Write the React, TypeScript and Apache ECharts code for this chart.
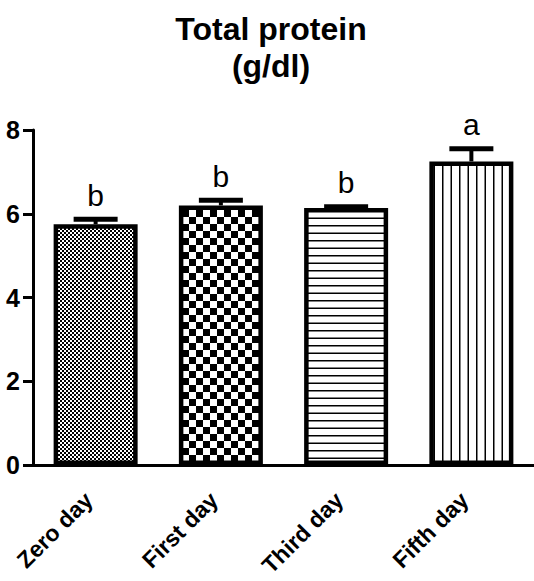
import React, { useEffect, useRef } from 'react';
import * as echarts from 'echarts';

const categories = ['Zero day', 'First day', 'Third day', 'Fifth day'];
const meanValues = [5.75, 6.2, 6.14, 7.25];
const errorTops = [5.87, 6.32, 6.17, 7.55];
const groupLetters = ['b', 'b', 'b', 'a'];
const yMin = 0;
const yMax = 8;
const yStep = 2;
const titleLines = ['Total protein', '(g/dl)'];

const FONT = '"Liberation Sans", Arial, Helvetica, sans-serif';

type Painter = (ctx: CanvasRenderingContext2D, w: number, h: number) => void;

function makeTile(w: number, h: number, paint: Painter) {
  const c = document.createElement('canvas');
  c.width = w;
  c.height = h;
  const ctx = c.getContext('2d') as CanvasRenderingContext2D;
  ctx.fillStyle = '#ffffff';
  ctx.fillRect(0, 0, w, h);
  ctx.fillStyle = '#000000';
  paint(ctx, w, h);
  return { image: c, repeat: 'repeat', imageWidth: w, imageHeight: h } as any;
}

function buildFills() {
  const fineChecks = makeTile(4, 4, (ctx) => {
    ctx.fillRect(0, 0, 2, 2);
    ctx.fillRect(2, 2, 2, 2);
  });
  const coarseChecks = makeTile(14, 14, (ctx) => {
    ctx.fillRect(0, 0, 7, 7);
    ctx.fillRect(7, 7, 7, 7);
  });
  const horizontalLines = makeTile(10, 15, (ctx, w) => {
    ctx.fillRect(0, 0, w, 1.5);
    ctx.fillRect(0, 7.5, w, 1.5);
  });
  const verticalLines = makeTile(17, 10, (ctx, _w, h) => {
    ctx.fillRect(0, 0, 1.5, h);
    ctx.fillRect(8.5, 0, 1.5, h);
  });
  return [fineChecks, coarseChecks, horizontalLines, verticalLines];
}

export default function App() {
  const ref = useRef<HTMLDivElement>(null);

  useEffect(() => {
    if (!ref.current) return;
    const chart = echarts.init(ref.current, null, { renderer: 'svg' });
    const fills = buildFills();

    const option: any = {
      animation: false,
      backgroundColor: '#ffffff',
      title: {
        text: titleLines.join('\n'),
        left: 271,
        top: 10,
        padding: 0,
        textAlign: 'center',
        textStyle: {
          fontFamily: FONT,
          fontSize: 32,
          fontWeight: 'bold',
          lineHeight: 37,
          color: '#000',
        },
      },
      grid: { left: 33, top: 130, width: 504, bottom: 116, containLabel: false },
      xAxis: {
        type: 'category',
        data: categories,
        axisLine: { lineStyle: { color: '#000', width: 3 } },
        axisTick: { alignWithLabel: true, length: 9, lineStyle: { color: '#000', width: 3 } },
        axisLabel: {
          rotate: 45,
          margin: 24,
          padding: [0, 10, 0, 0],
          color: '#000',
          fontFamily: FONT,
          fontSize: 23,
          fontWeight: 'bold',
          interval: 0,
        },
      },
      yAxis: {
        type: 'value',
        min: yMin,
        max: yMax,
        interval: yStep,
        splitLine: { show: false },
        axisLine: { show: true, lineStyle: { color: '#000', width: 3 } },
        axisTick: { show: true, length: 10, lineStyle: { color: '#000', width: 3 } },
        axisLabel: {
          margin: 13,
          color: '#000',
          fontFamily: FONT,
          fontSize: 25,
          fontWeight: 'bold',
        },
      },
      series: [
        {
          type: 'bar',
          barWidth: 84,
          data: meanValues.map((v, i) => ({
            value: v,
            itemStyle: { color: fills[i], borderColor: '#000', borderWidth: 4.5 },
          })),
          z: 2,
        },
        {
          type: 'custom',
          z: 3,
          clip: false,
          data: meanValues.map((v, i) => [i, v, errorTops[i]]),
          renderItem: (params: any, api: any) => {
            const idx = api.value(0);
            const base = api.coord([idx, api.value(1)]);
            const top = api.coord([idx, api.value(2)]);
            const x = base[0];
            const capHalf = 22;
            return {
              type: 'group',
              children: [
                {
                  type: 'line',
                  shape: { x1: x, y1: base[1], x2: x, y2: top[1] },
                  style: { stroke: '#000', lineWidth: 4 },
                },
                {
                  type: 'line',
                  shape: { x1: x - capHalf, y1: top[1], x2: x + capHalf, y2: top[1] },
                  style: { stroke: '#000', lineWidth: 5 },
                },
                {
                  type: 'text',
                  x: x,
                  y: top[1] - 9,
                  style: {
                    text: groupLetters[params.dataIndex],
                    fontFamily: FONT,
                    fontSize: 30,
                    fill: '#000',
                    textAlign: 'center',
                    textVerticalAlign: 'bottom',
                  },
                },
              ],
            };
          },
        },
      ],
    };

    chart.setOption(option);
    return () => chart.dispose();
  }, []);

  return (
    <div
      ref={ref}
      style={{ position: 'absolute', left: 0, top: 0, width: 534, height: 581 }}
    />
  );
}
